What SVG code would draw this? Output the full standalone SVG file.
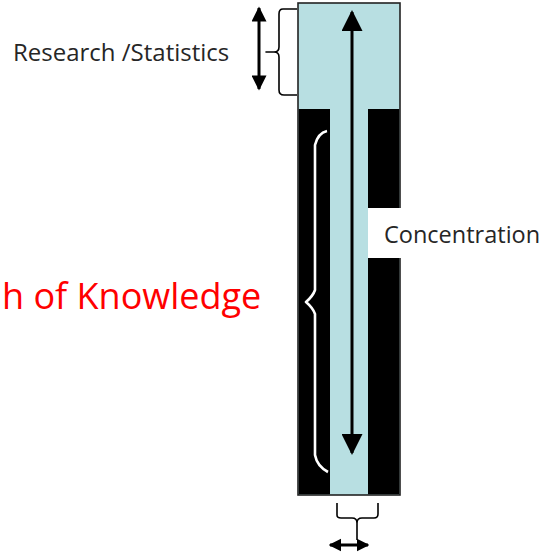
<svg xmlns="http://www.w3.org/2000/svg" width="546" height="560" viewBox="0 0 546 560">
<style>
.lbl{font-family:"Open Sans","Liberation Sans",sans-serif;fill:#262626}
.red{font-family:"Open Sans","Liberation Sans",sans-serif;fill:#ff0000}
.brace{fill:none;stroke:#000;stroke-width:1.6;stroke-linejoin:round}
.arr{stroke:#000;stroke-width:3;fill:none}
</style>
<defs>
<marker id="ah" viewBox="0 0 10 10" refX="9" refY="5" markerWidth="6" markerHeight="5" markerUnits="strokeWidth" orient="auto-start-reverse">
<path d="M0,0 L10,5 L0,10 z" fill="#000"/>
</marker>
<marker id="ah3" viewBox="0 0 10 10" refX="9" refY="5" markerWidth="7.5" markerHeight="7" markerUnits="strokeWidth" orient="auto-start-reverse">
<path d="M0,0 L10,5 L0,10 z" fill="#000"/>
</marker>
<marker id="ah2" viewBox="0 0 10 10" refX="9" refY="5" markerWidth="4.2" markerHeight="4.8" markerUnits="strokeWidth" orient="auto-start-reverse">
<path d="M0,0 L10,5 L0,10 z" fill="#000"/>
</marker>
</defs>
<rect width="546" height="560" fill="#fff"/>
<g id="column">
<rect x="298" y="3" width="102" height="492" fill="#b8dfe2" stroke="#222" stroke-width="1.6"/>
<rect x="298.8" y="109" width="31.2" height="385.2" fill="#000"/>
<rect x="368" y="109" width="31.2" height="385.2" fill="#000"/>
</g>
<g id="concentration">
<rect x="368" y="208" width="178" height="50" fill="#fff"/>
<text class="lbl" x="384" y="243" font-size="23.5">Concentration</text>
</g>
<g id="research">
<text class="lbl" x="13" y="61" font-size="24">Research /Statistics</text>
</g>
<g id="knowledge">
<text class="red" x="2" y="309" font-size="36">h of Knowledge</text>
</g>
<g id="connectors">
<line class="arr" x1="259" y1="8" x2="259" y2="89" marker-start="url(#ah)" marker-end="url(#ah)"/>
<path class="brace" d="M297,9 H283 Q279,9 279,14 V47 Q279,52 274,52 H266 H274 Q279,52 279,57 V90 Q279,95 284,95 H297"/>
<line class="arr" x1="352" y1="12" x2="352" y2="453" stroke-width="2.2" marker-start="url(#ah3)" marker-end="url(#ah3)"/>
<path d="M327,131 Q318,133 315,145 V290 Q313,296 306,302 Q313,308 315,314 V455 Q317,466 328,472" fill="none" stroke="#fff" stroke-width="2.6" stroke-linejoin="round"/>
<path class="brace" stroke-width="2.2" d="M337,503 V515 Q337,518 341,518 H352 Q357,518 357,523 M357,523 Q357,518 362,518 H374 Q378,518 378,514 V503 M357,523 V540"/>
<line class="arr" x1="330" y1="545" x2="368" y2="545" stroke-width="3.5" marker-start="url(#ah2)" marker-end="url(#ah2)"/>
</g>
</svg>
